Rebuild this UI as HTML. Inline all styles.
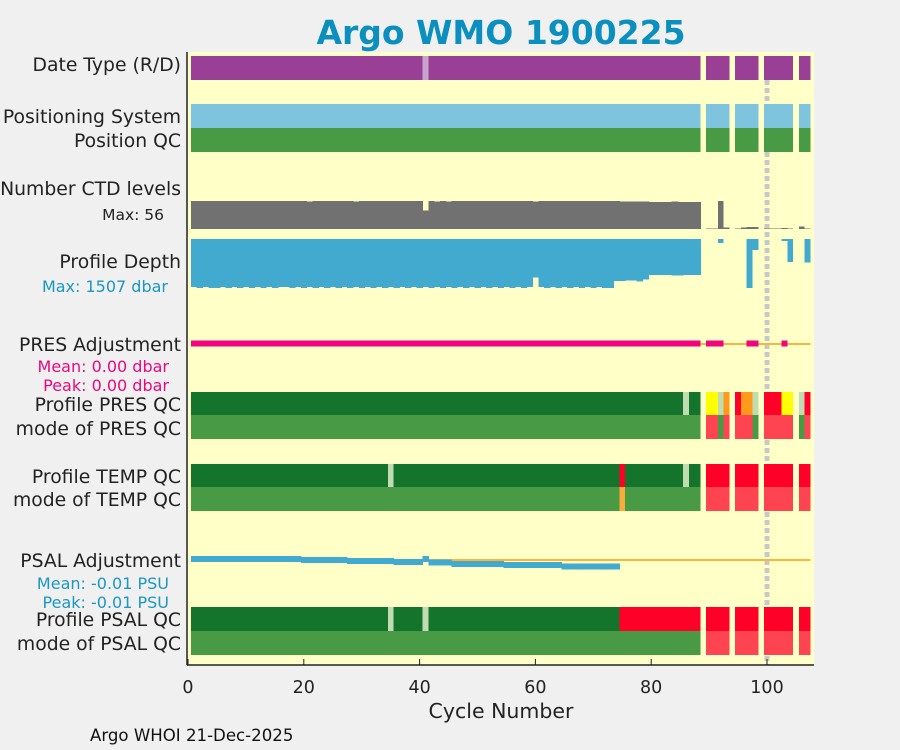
<!DOCTYPE html>
<html><head><meta charset="utf-8"><style>
body{margin:0;background:#f0f0f0;}
svg{display:block;font-family:"DejaVu Sans","Liberation Sans",sans-serif;}
</style></head><body>
<svg id="c" width="900" height="750" viewBox="0 0 900 750">
<rect x="0" y="0" width="900" height="750" fill="#f0f0f0"/>
<rect x="187" y="52" width="627" height="613" fill="#ffffc8"/>
<g id="marks" shape-rendering="crispEdges"></g>
<line x1="187" y1="52" x2="187" y2="665" stroke="#222" stroke-width="1.5"/>
<line x1="187" y1="665" x2="814" y2="665" stroke="#222" stroke-width="1.5"/>
<g id="ticks"></g>
<text x="501" y="44" text-anchor="middle" font-size="33" font-weight="bold" fill="#0a8fbf">Argo WMO 1900225</text>
<g font-size="18.8" fill="#222" text-anchor="end">
<text x="181" y="71">Date Type (R/D)</text>
<text x="181" y="123">Positioning System</text>
<text x="181" y="147">Position QC</text>
<text x="181" y="195">Number CTD levels</text>
<text x="164" y="220" font-size="15.5">Max: 56</text>
<text x="181" y="268">Profile Depth</text>
<text x="168" y="292" font-size="16" fill="#1a97c4">Max: 1507 dbar</text>
<text x="181" y="351">PRES Adjustment</text>
<text x="169" y="372" font-size="16" fill="#e8097f">Mean: 0.00 dbar</text>
<text x="169" y="391" font-size="16" fill="#e8097f">Peak: 0.00 dbar</text>
<text x="181" y="411">Profile PRES QC</text>
<text x="181" y="435">mode of PRES QC</text>
<text x="181" y="483">Profile TEMP QC</text>
<text x="181" y="506">mode of TEMP QC</text>
<text x="181" y="567">PSAL Adjustment</text>
<text x="169" y="589" font-size="16" fill="#1a97c4">Mean: -0.01 PSU</text>
<text x="169" y="608" font-size="16" fill="#1a97c4">Peak: -0.01 PSU</text>
<text x="181" y="626">Profile PSAL QC</text>
<text x="181" y="650">mode of PSAL QC</text>
</g>
<text x="501" y="718" text-anchor="middle" font-size="20.5" fill="#222">Cycle Number</text>
<text x="90" y="741" font-size="16.6" fill="#111">Argo WHOI 21-Dec-2025</text>
</svg>
<script>
const xTicks=[0,20,40,60,80,100];
const cycles=[];for(let c=1;c<=88;c++)cycles.push(c);
const cyclesLate=[90,91,92,93,95,96,97,98,100,101,102,103,104,106,107];
// run-length rows [start,end,code]
const dateType=[[1,40,'P'],[41,41,'p'],[42,88,'P'],[90,93,'P'],[95,98,'P'],[100,104,'P'],[106,107,'P']];
const posSys=[[1,88,'B'],[90,93,'B'],[95,98,'B'],[100,104,'B'],[106,107,'B']];
const posQC=[[1,88,'M'],[90,93,'M'],[95,98,'M'],[100,104,'M'],[106,107,'M']];
const presQC=[[1,85,'G'],[86,86,'L'],[87,88,'G'],[90,91,'Y'],[92,92,'L'],[93,93,'O'],[95,95,'R'],[96,97,'O'],[98,98,'L'],[100,102,'R'],[103,104,'Y'],[106,106,'L'],[107,107,'R']];
const presMode=[[1,88,'M'],[90,91,'r'],[92,92,'M'],[93,93,'r'],[95,97,'r'],[98,98,'M'],[100,104,'r'],[106,106,'M'],[107,107,'r']];
const tempQC=[[1,34,'G'],[35,35,'L'],[36,74,'G'],[75,75,'R'],[76,85,'G'],[86,86,'L'],[87,88,'G'],[90,93,'R'],[95,98,'R'],[100,104,'R'],[106,107,'R']];
const tempMode=[[1,74,'M'],[75,75,'o'],[76,88,'M'],[90,93,'r'],[95,98,'r'],[100,104,'r'],[106,107,'r']];
const psalQC=[[1,34,'G'],[35,35,'L'],[36,40,'G'],[41,41,'L'],[42,74,'G'],[75,88,'R'],[90,93,'R'],[95,98,'R'],[100,104,'R'],[106,107,'R']];
const psalMode=[[1,88,'M'],[90,93,'r'],[95,98,'r'],[100,104,'r'],[106,107,'r']];
const ctdLevels=[56,56,56,56,56,56,56,56,56,56,56,56,56,56,56,56,56,56,56,56,55,56,56,56,56,56,56,56,55,56,56,56,56,56,56,56,56,56,56,56,37,56,55,56,55,56,56,56,56,56,56,56,56,56,56,56,56,56,56,55,56,56,56,56,56,56,56,56,56,56,56,56,56,56,55,55,55,55,55,54,54,54,54,55,54,54,54,54];
const ctdLate=[1,1,56,3,1,3,4,4,1,1,1,2,1,5,1];
const depth=[1480,1507,1480,1507,1507,1480,1507,1480,1507,1480,1507,1480,1507,1480,1507,1480,1480,1507,1480,1507,1480,1507,1480,1507,1480,1507,1480,1507,1480,1507,1480,1507,1480,1507,1480,1507,1480,1507,1480,1507,1480,1507,1480,1507,1480,1507,1480,1507,1480,1507,1480,1507,1480,1507,1480,1507,1480,1507,1480,1190,1480,1507,1480,1507,1480,1507,1480,1507,1480,1507,1480,1507,1507,1290,1290,1280,1280,1300,1240,1100,1100,1100,1100,1120,1130,1100,1100,1100];
const depthLate=[0,0,120,0,0,0,1500,340,0,0,0,60,700,0,720];
const presAdjCycles=[1,88,90,92,97,98,103,103];
const psalAdj=[0,0,0,0,0,0,0,0,0,0,0,0,0,0,0,0,0,0,0,-0.0017,-0.0017,-0.0017,-0.0017,-0.0017,-0.0017,-0.0017,-0.0017,-0.0033,-0.0033,-0.0033,-0.0033,-0.0033,-0.0033,-0.0033,-0.0033,-0.005,-0.005,-0.005,-0.005,-0.005,0,-0.006,-0.006,-0.006,-0.006,-0.0083,-0.0083,-0.0083,-0.0083,-0.0083,-0.0083,-0.0083,-0.0083,-0.0083,-0.01,-0.01,-0.01,-0.01,-0.01,-0.01,-0.01,-0.01,-0.01,-0.01,-0.0125,-0.0125,-0.0125,-0.0125,-0.0125,-0.0125,-0.0125,-0.0125,-0.0125,-0.0125];

const colors={P:'#993f96',p:'#c9a3cb',B:'#7fc4df',M:'#489a45',G:'#14742b',L:'#c0dcb0',R:'#ff0029',Y:'#ffff00',O:'#ff9a1a',r:'#ff4451',o:'#fbab3a'};
const X=v=>188+v*5.79;
const NS='http://www.w3.org/2000/svg';
const g=document.getElementById('marks');
function rect(x,y,w,h,fill,name){const r=document.createElementNS(NS,'rect');r.setAttribute('x',x);r.setAttribute('y',y);r.setAttribute('width',w);r.setAttribute('height',h);r.setAttribute('fill',fill);


g.appendChild(r);return r;}
function runs(data,y,h,name){data.forEach(d=>{rect(X(d[0]-0.5),y,X(d[1]+0.5)-X(d[0]-0.5),h,colors[d[2]],name);});}
runs(dateType,56,24,'date-type-bar');
runs(posSys,104,24,'positioning-system-bar');
runs(posQC,128,24,'position-qc-bar');
const ctdY=v=>229-v*0.5;
cycles.forEach((c,i)=>rect(X(c-0.5),ctdY(ctdLevels[i]),6.3,229-ctdY(ctdLevels[i]),'#717171','ctd-levels-bar'));
cyclesLate.forEach((c,i)=>{if(ctdLate[i]>0)rect(X(c-0.5),ctdY(ctdLate[i]),5.85,229-ctdY(ctdLate[i]),'#717171','ctd-levels-bar');});
const depY=v=>239+v*49/1507;
cycles.forEach((c,i)=>rect(X(c-0.5),239,6.3,depY(depth[i])-239,'#42aacf','profile-depth-bar'));
cyclesLate.forEach((c,i)=>{if(depthLate[i]>0)rect(X(c-0.5),239,5.85,depY(depthLate[i])-239,'#42aacf','profile-depth-bar');});
rect(X(0.5),343,X(107.5)-X(0.5),2,'#fbb43d','pres-adj-reference-line');
for(let i=0;i<presAdjCycles.length;i+=2)rect(X(presAdjCycles[i]-0.5),340.5,X(presAdjCycles[i+1]+0.5)-X(presAdjCycles[i]-0.5),6,'#f0047f','pres-adjustment-line');
runs(presQC,392,23,'profile-pres-qc-bar');
runs(presMode,415,24,'mode-pres-qc-bar');
runs(tempQC,464,23,'profile-temp-qc-bar');
runs(tempMode,487,24,'mode-temp-qc-bar');
rect(X(0.5),559,X(107.5)-X(0.5),2,'#fbb43d','psal-adj-reference-line');
const psY=v=>559-v*600;
psalAdj.forEach((v,i)=>rect(X(i+0.5),psY(v)-3,6.3,6,'#42aacf','psal-adjustment-line'));
runs(psalQC,607,24,'profile-psal-qc-bar');
runs(psalMode,631,24,'mode-psal-qc-bar');
const dl=document.createElementNS(NS,'line');
dl.setAttribute('x1',X(100));dl.setAttribute('x2',X(100));dl.setAttribute('y1',80);dl.setAttribute('y2',665);
dl.setAttribute('stroke','#c8c8c8');dl.setAttribute('stroke-width','5');dl.setAttribute('stroke-dasharray','5 3');


g.insertBefore(dl,g.firstChild);
const t=document.getElementById('ticks');
xTicks.forEach(v=>{
const l=document.createElementNS(NS,'line');l.setAttribute('x1',X(v));l.setAttribute('x2',X(v));l.setAttribute('y1',665);l.setAttribute('y2',659);l.setAttribute('stroke','#222');


t.appendChild(l);
const tx=document.createElementNS(NS,'text');tx.setAttribute('x',X(v));tx.setAttribute('y',693);tx.setAttribute('text-anchor','middle');tx.setAttribute('font-size','17.5');tx.setAttribute('fill','#222');tx.textContent=v;


t.appendChild(tx);});
</script>
</body></html>
